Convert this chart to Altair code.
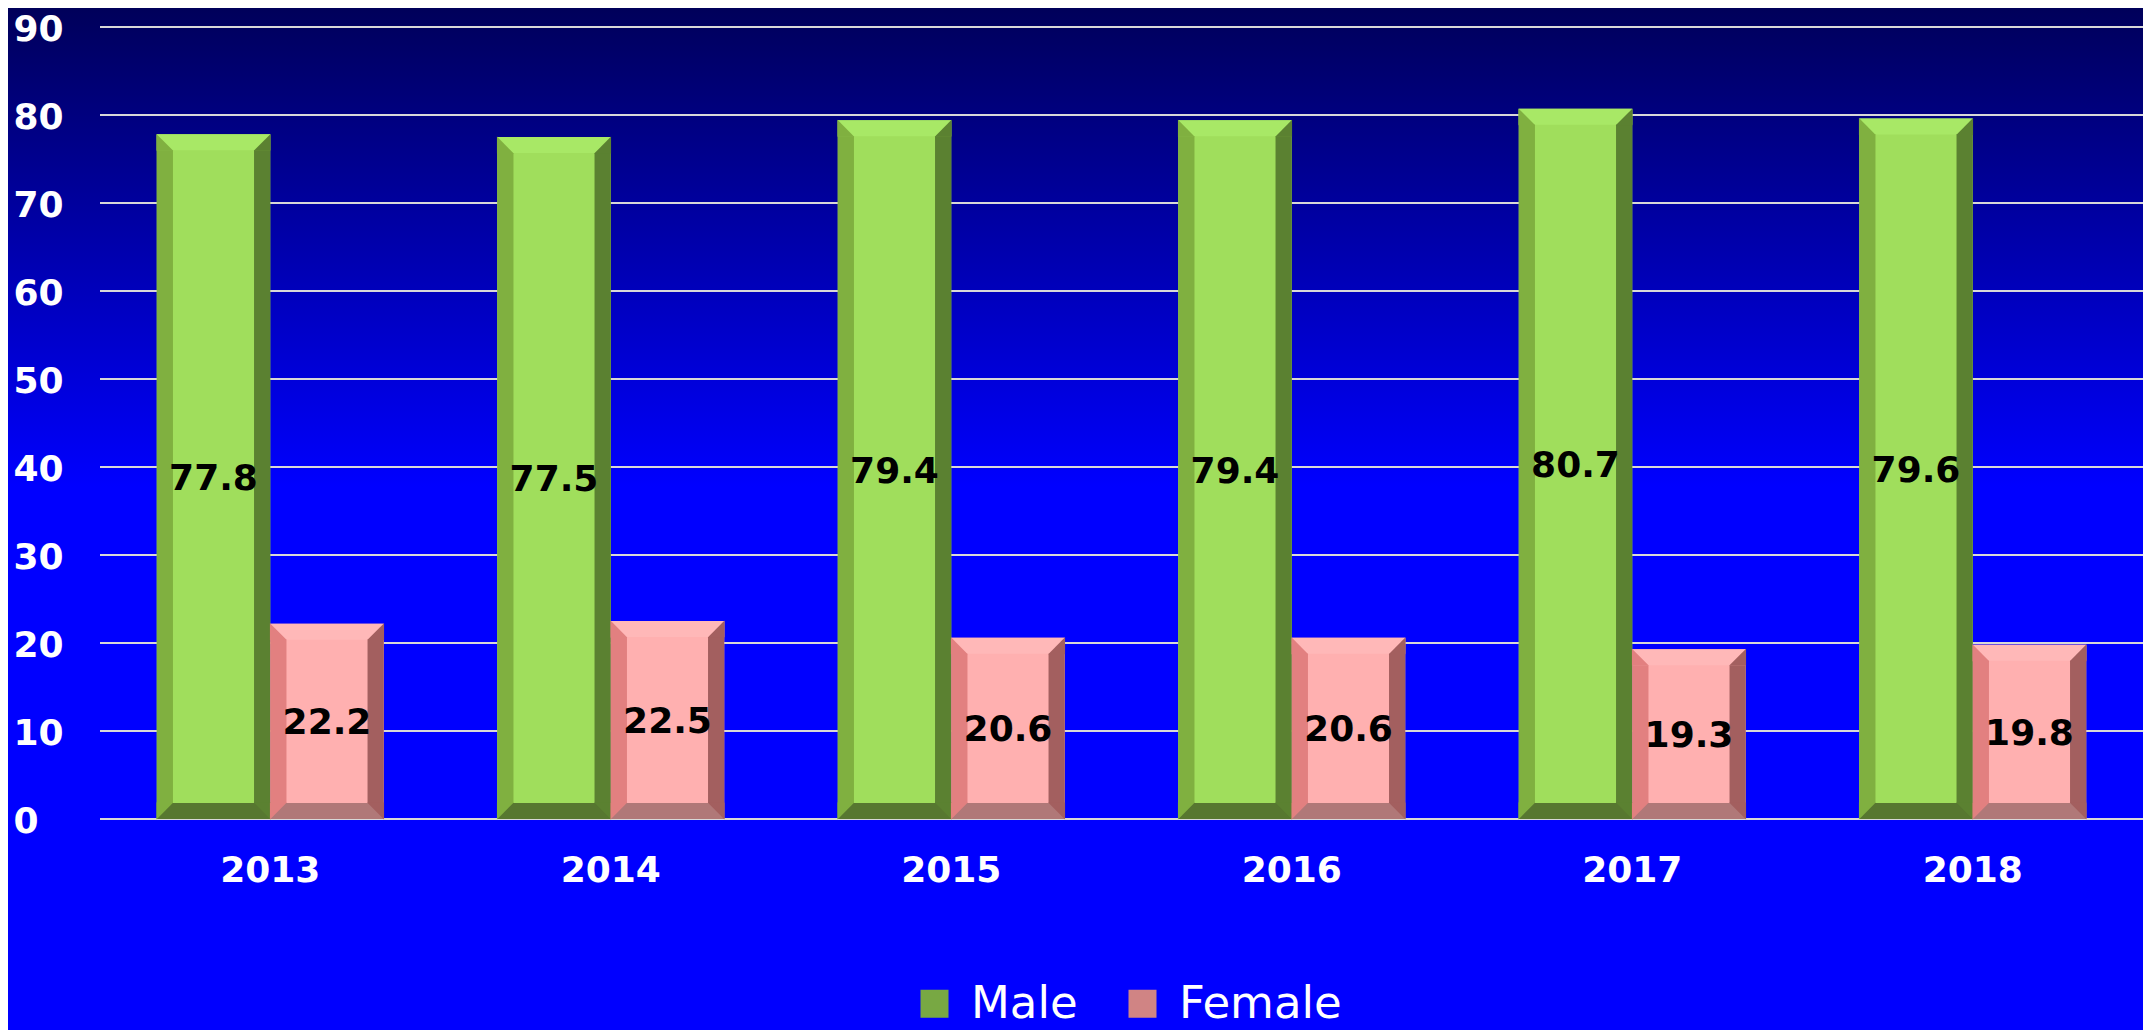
import altair as alt
import pandas as pd

# ---------------- data ----------------
years = ["2013", "2014", "2015", "2016", "2017", "2018"]
male = [77.8, 77.5, 79.4, 79.4, 80.7, 79.6]
female = [22.2, 22.5, 20.6, 20.6, 19.3, 19.8]
genders = ["Male", "Female"]
ticks = [0, 10, 20, 30, 40, 50, 60, 70, 80, 90]

# ---------------- styles ----------------
FONT = "DejaVu Sans"
face_col = ["#A0DE5C", "#FFB0B0"]
top_col = ["#A8E866", "#FFB8B8"]
bottom_col = ["#577730", "#B07878"]
side_keys = ["Male-left", "Male-right", "Female-left", "Female-right"]
side_col = ["#80B040", "#5B8131", "#E28080", "#A35F5F"]
legend_col = ["#78A843", "#D08484"]
W, H = 2043, 792
NSLOT = 7
slot_px = W / len(years) * (2 / 3) / (2 * NSLOT)
BEV = 16

rows = []
for i, yr in enumerate(years):
    rows.append({"year": yr, "gender": "Male", "value": male[i]})
    rows.append({"year": yr, "gender": "Female", "value": female[i]})
df = pd.DataFrame(rows)
df["zero"] = 0.0
df["half"] = df["value"] / 2

side_rows = []
for r in rows:
    for side, idx in (("left", 0), ("right", NSLOT - 1)):
        side_rows.append({"year": r["year"], "value": r["value"], "zero": 0.0,
                          "slot": f"{r['gender']}-{idx}",
                          "key": f"{r['gender']}-{side}"})
sdf = pd.DataFrame(side_rows)
slots = [f"{g}-{i}" for g in genders for i in range(NSLOT)]

tick_df = pd.DataFrame({"tick": ticks})

# ---------------- encodings ----------------
xaxis = alt.Axis(title=None, labelFont=FONT, labelFontSize=36, labelFontWeight="bold",
                 labelColor="white", ticks=False, tickSize=0, domain=False, grid=False,
                 labelPadding=34, labelAngle=0, zindex=2)
yaxis = alt.Axis(title=None, labelFont=FONT, labelFontSize=36, labelFontWeight="bold",
                 labelColor="white", ticks=False, tickSize=0, domain=False, grid=False,
                 values=ticks, labelAlign="left", labelPadding=87, labelBaseline="middle",
                 labelOffset=2, zindex=2)
xscale = alt.Scale(type="band", domain=years, paddingInner=1 / 3, paddingOuter=1 / 6)
yscale = alt.Scale(domain=[0, 90], nice=False, zero=True)


def X():
    return alt.X("year:N", scale=xscale, axis=xaxis, sort=years)


def Y(field):
    return alt.Y(f"{field}:Q", scale=yscale, axis=yaxis)


def XO_gender():
    return alt.XOffset("gender:N", scale=alt.Scale(type="band", domain=genders,
                                                   paddingInner=0, paddingOuter=0),
                       sort=genders)


def XO_slot():
    return alt.XOffset("slot:N", scale=alt.Scale(type="band", domain=slots,
                                                 paddingInner=0, paddingOuter=0),
                       sort=slots)


# background gradient
bg = alt.Chart(alt.Data(values=[{"a": 1}])).mark_rect(
    fill=alt.LinearGradient(
        gradient="linear", x1=0, y1=0, x2=0, y2=1,
        stops=[alt.GradientStop(offset=0, color="#00005A"),
               alt.GradientStop(offset=0.46, color="#0000FF"),
               alt.GradientStop(offset=1, color="#0000FF")]),
).encode(x=alt.value(-92), x2=alt.value(W + 10), y=alt.value(-19), y2=alt.value(H + 230))

grid = alt.Chart(tick_df).mark_rule(color="#D8D8D8", strokeWidth=2).encode(y=Y("tick"))

face = alt.Chart(df).mark_bar().encode(
    x=X(), xOffset=XO_gender(), y=Y("value"), y2="zero:Q",
    color=alt.Color("gender:N", scale=alt.Scale(domain=genders, range=face_col), legend=None),
)

top = alt.Chart(df).mark_bar(y2Offset=BEV).encode(
    x=X(), xOffset=XO_gender(), y=Y("value"), y2="value:Q",
    color=alt.Color("gender:N", scale=alt.Scale(domain=genders, range=top_col), legend=None),
)

bottom = alt.Chart(df).mark_bar(y2Offset=-BEV).encode(
    x=X(), xOffset=XO_gender(), y=Y("zero"), y2="zero:Q",
    color=alt.Color("gender:N", scale=alt.Scale(domain=genders, range=bottom_col), legend=None),
)

sides = alt.Chart(sdf).mark_bar(yOffset=BEV, y2Offset=-BEV).encode(
    x=X(), xOffset=XO_slot(), y=Y("value"), y2="zero:Q",
    color=alt.Color("key:N", scale=alt.Scale(domain=side_keys, range=side_col), legend=None),
)

LL = "M-1,-1L1,1L-1,1Z"   # lower-left triangle
LR = "M1,-1L1,1L-1,1Z"    # lower-right triangle
UL = "M-1,-1L1,-1L-1,1Z"  # upper-left triangle
UR = "M-1,-1L1,-1L1,1Z"   # upper-right triangle

corner_size = (slot_px + 0.6) ** 2

top_corners = alt.Chart(sdf).mark_point(filled=True, opacity=1, strokeWidth=0,
                                        size=corner_size, yOffset=BEV / 2).encode(
    x=X(), xOffset=XO_slot(), y=Y("value"),
    shape=alt.Shape("key:N", scale=alt.Scale(domain=side_keys, range=[LL, LR, LL, LR]), legend=None),
    color=alt.Color("key:N", scale=alt.Scale(domain=side_keys, range=side_col), legend=None),
)

bottom_corners = alt.Chart(sdf).mark_point(filled=True, opacity=1, strokeWidth=0,
                                           size=corner_size, yOffset=-BEV / 2).encode(
    x=X(), xOffset=XO_slot(), y=Y("zero"),
    shape=alt.Shape("key:N", scale=alt.Scale(domain=side_keys, range=[UL, UR, UL, UR]), legend=None),
    color=alt.Color("key:N", scale=alt.Scale(domain=side_keys, range=side_col), legend=None),
)

labels = alt.Chart(df).mark_text(font=FONT, fontSize=36, fontWeight="bold", color="black",
                                 baseline="middle", align="center", dy=2).encode(
    x=X(), xOffset=XO_gender(), y=Y("half"), text=alt.Text("value:Q", format=".1f"),
)

legend_layer = alt.Chart(df).mark_point(filled=True, opacity=0, shape="square").encode(
    x=X(), xOffset=XO_gender(), y=Y("value"),
    color=alt.Color("gender:N", scale=alt.Scale(domain=genders, range=legend_col),
                    legend=alt.Legend(title=None, orient="none", legendX=812, legendY=954,
                                      direction="horizontal", symbolType="square",
                                      symbolSize=784, symbolStrokeWidth=0, symbolOpacity=1,
                                      labelFont=FONT, labelFontSize=45, labelColor="white",
                                      labelOffset=14, columnPadding=42, padding=0,
                                      labelLimit=0, labelBaseline="middle")),
)

chart = alt.layer(bg, grid, face, top, bottom, sides, top_corners, bottom_corners,
                  labels, legend_layer).resolve_scale(
    color="independent", xOffset="independent", shape="independent"
).properties(
    width=W, height=H,
    autosize=alt.AutoSizeParams(type="none"),
    padding={"left": 92, "top": 19, "right": 0, "bottom": 211},
).configure(background="#0000FF").configure_view(strokeWidth=0)

chart.save("out.html", embed_options={"renderer": "svg", "actions": False})
